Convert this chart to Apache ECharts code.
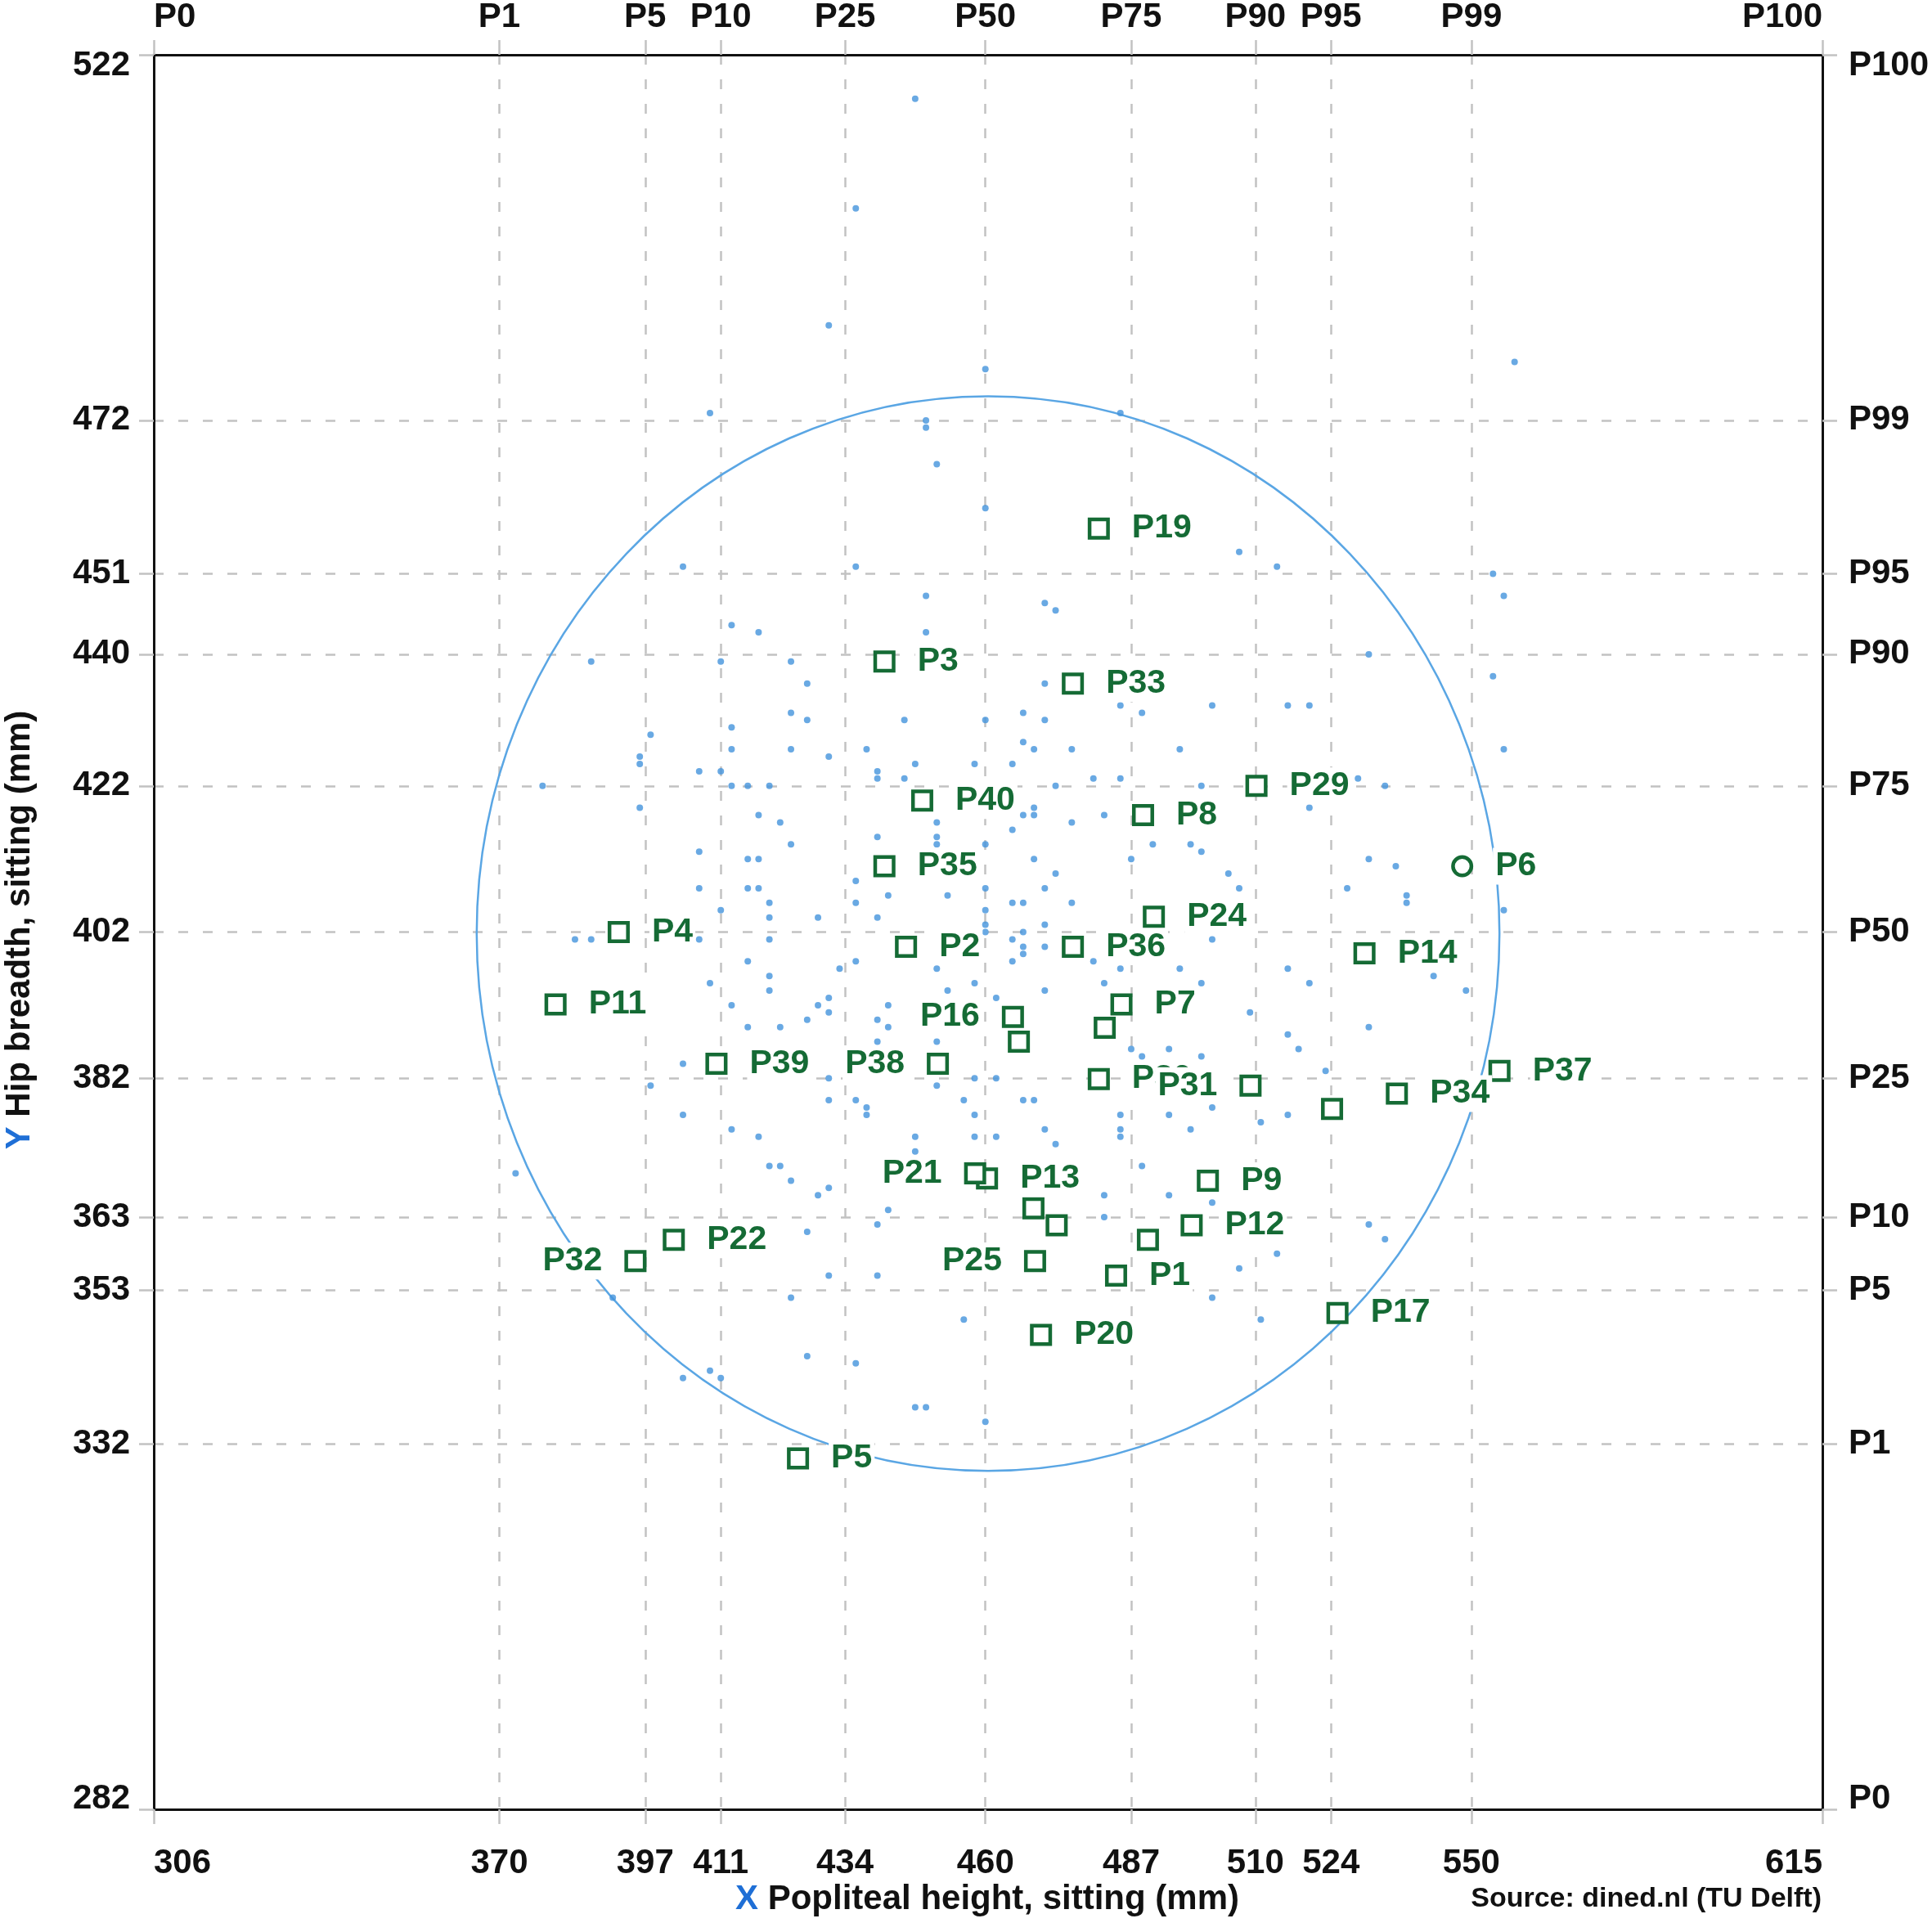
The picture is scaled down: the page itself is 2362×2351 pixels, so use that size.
<!DOCTYPE html>
<html>
<head>
<meta charset="utf-8">
<script src="https://cdn.jsdelivr.net/npm/echarts@6/dist/echarts.min.js"></script>
<style>
html,body{margin:0;padding:0;background:#ffffff;}
#chart{width:2362px;height:2351px;}
</style>
</head>
<body>
<div id="chart"></div>
<script>
// ---------------- DATA ----------------
const xTicks = [306, 370, 397, 411, 434, 460, 487, 510, 524, 550, 615];
const xTickPct = ['P0', 'P1', 'P5', 'P10', 'P25', 'P50', 'P75', 'P90', 'P95', 'P99', 'P100'];
const yTicks = [282, 332, 353, 363, 382, 402, 422, 440, 451, 472, 522];
const yTickPct = ['P0', 'P1', 'P5', 'P10', 'P25', 'P50', 'P75', 'P90', 'P95', 'P99', 'P100'];

// population sample: [popliteal height, hip breadth] in mm
const samplePoints = [
  [447,516],[436,501],[431,485],[460,479],[409,473],[449,472],[449,471],[451,466],[460,460],
  [558,480],[485,473],
  [404,452],[436,452],[449,448],[413,444],[418,443],[449,443],[387,439],[411,439],[424,439],[427,436],
  [424,432],[427,431],[413,430],[445,431],[460,431],[398,429],[413,427],[424,427],[431,426],[438,427],
  [396,426],[396,425],[447,425],[458,425],[440,424],[440,423],[445,423],[407,424],[411,424],[378,422],
  [413,422],[416,422],[420,422],[396,419],[418,418],[422,417],[451,417],[458,418],[440,415],[451,415],
  [451,414],[424,414],[460,414],[407,413],[416,412],[418,412],[436,409],[407,408],[416,408],[418,408],
  [460,408],[442,407],[453,407],[420,406],[436,406],[411,405],[420,404],[429,404],[440,404],[460,405],
  [460,403],[460,402],[384,401],[387,401],[407,401],[420,401],[416,398],[436,398],[433,397],[451,397],
  [420,396],[409,395],[458,395],[420,394],[453,394],
  [462,393],[413,392],[431,393],[431,391],[429,392],[442,392],[427,390],[416,389],[422,389],[440,390],
  [442,389],[451,387],[440,387],[404,384],[431,382],[458,382],[462,382],[398,381],[451,381],[431,379],
  [436,379],[438,378],[438,377],[456,379],[458,377],[404,377],[413,375],[418,374],[447,374],[458,374],
  [462,374],[447,372],[420,370],[422,370],[373,369],[424,368],[431,367],[429,366],[442,364],[440,362],
  [427,361],[431,355],[440,355],[424,352],[391,352],[456,349],[427,344],[436,343],[409,342],[404,341],
  [411,341],[447,337],[449,337],[460,335],
  [507,454],[514,452],[554,451],[556,448],[471,447],[473,446],[531,440],[554,437],[471,436],[485,433],
  [502,433],[516,433],[520,433],[467,432],[471,431],[489,432],[467,428],[469,427],[476,427],[496,427],
  [556,427],[465,425],[480,423],[485,423],[473,422],[500,422],[529,423],[534,422],[469,419],[469,418],
  [467,418],[482,418],[520,419],[476,417],[465,416],[491,414],[498,414],[500,413],[469,412],[487,412],
  [531,412],[536,411],[473,410],[505,410],[471,408],[507,408],[527,408],[538,407],[538,406],[465,406],
  [467,406],[476,406],[556,405],[471,403],[467,402],[467,400],[467,399],[465,401],[471,400],[502,401],
  [465,398],[480,398],[485,397],[496,397],[516,397],[543,396],[482,395],[500,395],[520,395],[471,394],
  [549,394],
  [509,391],[531,389],[516,388],[518,386],[487,386],[494,386],[489,385],[500,385],[523,383],[467,379],
  [469,379],[485,377],[494,377],[502,378],[516,377],[511,376],[485,375],[485,374],[471,375],[498,375],
  [473,373],[489,370],[482,366],[494,366],[502,365],[482,363],[531,362],[534,360],[514,358],[507,356],
  [502,352],[511,349]
];

// products (persons) P1..P40
const productNames = ['P19','P3','P33','P29','P40','P8','P35','P6','P24','P4','P2','P36','P14','P11','P7',
  'P16','P15','P18','P39','P38','P37','P30','P31','P34','P23','P13','P21','P9','P26','P27','P12','P28',
  'P22','P32','P25','P1','P17','P20','P5'];
const productX = [481.0,441.3,476.2,510.2,448.3,489.2,441.3,548.3,491.2,392.1,445.3,476.2,530.2,380.4,485.2,
  465.1,466.2,482.1,410.2,451.2,555.2,481.0,509.1,536.2,524.2,460.3,458.1,501.2,468.9,473.2,498.2,490.1,
  402.3,395.2,469.2,484.2,525.2,470.3,425.3];
const productY = [457.2,439.0,436.0,422.0,420.0,418.0,411.0,411.0,404.1,402.0,400.0,400.0,399.1,392.1,392.1,
  390.4,387.0,388.9,384.0,384.0,383.0,381.9,381.0,379.9,377.8,368.3,369.0,368.0,364.2,361.9,361.9,359.9,
  359.9,357.0,357.0,355.0,349.9,346.9,330.0];

// 95% ellipse: centre and half-axes in mm
const ellipseCenter = [460.5, 401.8];
const ellipseRadius = [94.7, 73.5];

// label placement / marker style choices (styling, not data)
const labelLeftOf = ['P16','P38','P21','P31','P32','P25'];
const labelHidden = ['P15','P18','P23','P26','P27','P28'];
const circleMarked = ['P6'];

// ---------------- STYLE ----------------
const FONT = '"Liberation Sans", Arial, Helvetica, sans-serif';
const BLACK = '#111111';
const GREEN = '#156b35';
const DOT = '#4394dc';
const RING = '#5aa6e4';
const BLUE_LETTER = '#1f6fd6';
const GRID_GRAY = '#c2c2c2';

const chart = echarts.init(document.getElementById('chart'), null, {renderer: 'canvas', width: 2362, height: 2351});

const axisLine = {show: true, onZero: false, lineStyle: {color: BLACK, width: 3}};
const labelBase = {color: BLACK, fontSize: 42, fontWeight: 'bold', fontFamily: FONT};

function xAxisCfg(pos, margin, fmt, split) {
  return {
    type: 'value', position: pos, min: 306, max: 615,
    axisLine: axisLine,
    axisTick: {show: true, length: 18, customValues: xTicks, lineStyle: {color: GRID_GRAY, width: 2.5}},
    axisLabel: Object.assign({}, labelBase, {
      customValues: xTicks, margin: margin, lineHeight: 42,
      alignMinLabel: 'left', alignMaxLabel: 'right', formatter: fmt
    }),
    splitLine: {show: split, lineStyle: {color: GRID_GRAY, width: 2.5, type: [12, 18]}}
  };
}
function yAxisCfg(pos, margin, fmt, split) {
  return {
    type: 'value', position: pos, min: 282, max: 522,
    axisLine: axisLine,
    axisTick: {show: true, length: 18, customValues: yTicks, lineStyle: {color: GRID_GRAY, width: 2.5}},
    axisLabel: Object.assign({}, labelBase, {
      customValues: yTicks, margin: margin, lineHeight: 26,
      verticalAlignMinLabel: 'bottom', verticalAlignMaxLabel: 'top', formatter: fmt
    }),
    splitLine: {show: split, lineStyle: {color: GRID_GRAY, width: 2.5, type: [12, 18]}}
  };
}

const productData = productNames.map((n, i) => {
  const item = {name: n, value: [productX[i], productY[i]]};
  if (circleMarked.indexOf(n) >= 0) item.symbol = 'circle';
  if (labelLeftOf.indexOf(n) >= 0) item.label = {position: 'left'};
  if (labelHidden.indexOf(n) >= 0) item.label = {show: false};
  return item;
});

const option = {
  animation: false,
  backgroundColor: '#ffffff',
  grid: {left: 188, right: 134, top: 67, bottom: 139, containLabel: false, outerBoundsMode: 'none'},
  xAxis: [
    xAxisCfg('bottom', 45, v => String(Math.round(v)), true),
    xAxisCfg('top', 25, v => xTickPct[xTicks.indexOf(Math.round(v))], false)
  ],
  yAxis: [
    yAxisCfg('left', 29, v => String(Math.round(v)), true),
    yAxisCfg('right', 32, v => yTickPct[yTicks.indexOf(Math.round(v))], false)
  ],
  series: [
    {
      type: 'custom', silent: true, z: 1, clip: false,
      data: [[ellipseCenter[0], ellipseCenter[1], ellipseRadius[0], ellipseRadius[1]]],
      renderItem: function (params, api) {
        const c = api.coord([api.value(0), api.value(1)]);
        const s = api.size([api.value(2), api.value(3)], [api.value(0), api.value(1)]);
        return {
          type: 'ellipse',
          shape: {cx: c[0], cy: c[1], rx: s[0], ry: s[1]},
          style: {fill: null, stroke: RING, lineWidth: 2.5}
        };
      }
    },
    {
      type: 'scatter', z: 2, silent: true,
      symbol: 'circle', symbolSize: 8,
      itemStyle: {color: DOT},
      data: samplePoints
    },
    {
      type: 'scatter', z: 3, silent: true,
      symbol: 'rect', symbolSize: 22.5,
      itemStyle: {color: '#ffffff', borderColor: GREEN, borderWidth: 4.5, opacity: 1},
      label: {
        show: true, position: 'right', distance: 24, formatter: '{b}',
        color: GREEN, fontSize: 41, fontWeight: 'bold', fontFamily: FONT,
        backgroundColor: '#ffffff', padding: [2, 3]
      },
      emphasis: {disabled: true},
      data: productData
    }
  ],
  graphic: [
    {
      type: 'text', x: 1207, y: 2322, silent: true,
      style: {
        text: '{b|X} Popliteal height, sitting (mm)',
        font: 'bold 42px ' + FONT, fill: BLACK, align: 'center', verticalAlign: 'middle',
        rich: {b: {fill: BLUE_LETTER, font: 'bold 42px ' + FONT}}
      }
    },
    {
      type: 'text', x: 24, y: 1137, rotation: Math.PI / 2, silent: true,
      style: {
        text: '{b|Y} Hip breadth, sitting (mm)',
        font: 'bold 42px ' + FONT, fill: BLACK, align: 'center', verticalAlign: 'middle',
        rich: {b: {fill: BLUE_LETTER, font: 'bold 42px ' + FONT}}
      }
    },
    {
      type: 'text', x: 2227, y: 2322, silent: true,
      style: {
        text: 'Source: dined.nl (TU Delft)',
        font: 'bold 34px ' + FONT, fill: BLACK, align: 'right', verticalAlign: 'middle'
      }
    }
  ]
};
chart.setOption(option);
</script>
</body>
</html>
